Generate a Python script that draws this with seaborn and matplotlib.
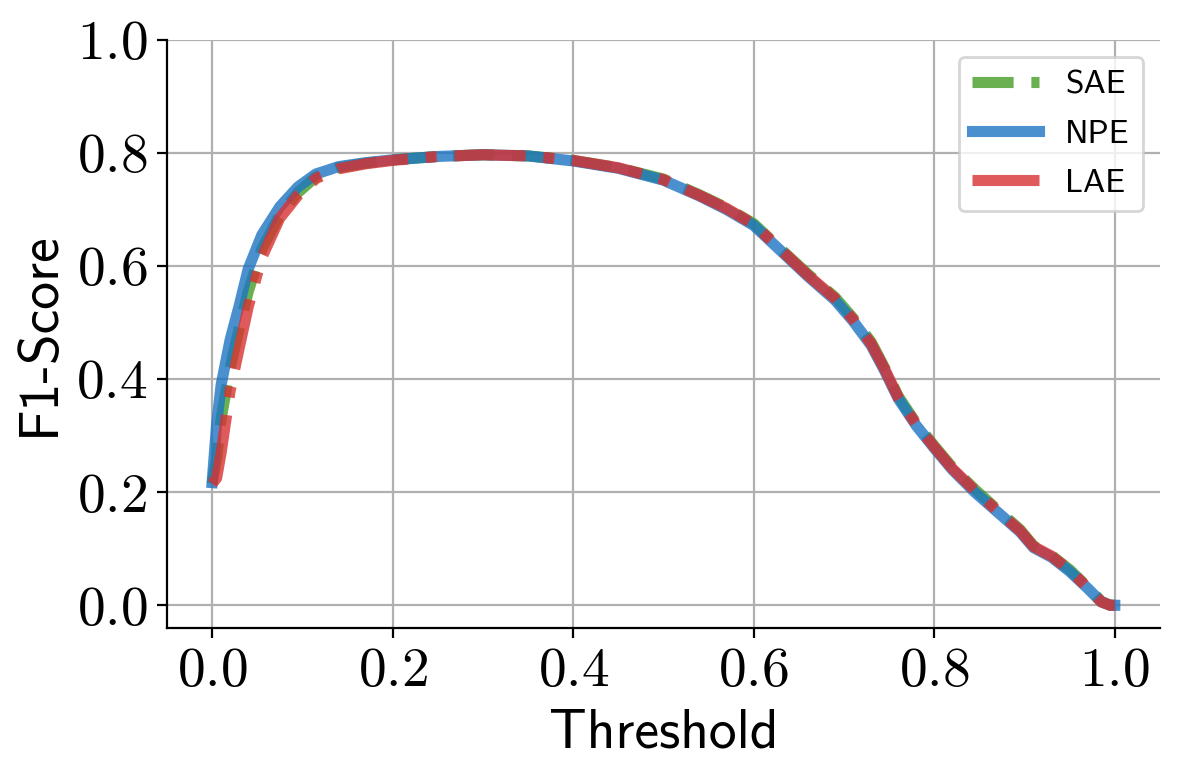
import os

import matplotlib
import pandas as pd
import seaborn as sns
from matplotlib import font_manager
from matplotlib import pyplot as plt

matplotlib.use('Agg')

# Threshold grid and F1 curves
threshold = [0.0, 0.005, 0.01, 0.02, 0.03, 0.04, 0.055, 0.075, 0.095, 0.115, 0.14, 0.17,
             0.2, 0.25, 0.3, 0.35, 0.4, 0.45, 0.5, 0.54, 0.57, 0.6, 0.63, 0.66, 0.69, 0.71,
             0.73, 0.745, 0.76, 0.78, 0.8, 0.82, 0.845, 0.87, 0.895, 0.91, 0.93, 0.95,
             0.97, 0.985, 0.995, 1.0]

f1_npe = [0.217, 0.32, 0.39, 0.47, 0.53, 0.595, 0.655, 0.705, 0.740, 0.763, 0.776, 0.783,
          0.788, 0.794, 0.797, 0.795, 0.786, 0.773, 0.752, 0.724, 0.700, 0.672, 0.627, 0.582,
          0.540, 0.503, 0.460, 0.415, 0.366, 0.318, 0.278, 0.240, 0.200, 0.165, 0.130, 0.102,
          0.085, 0.060, 0.030, 0.006, 0.0, 0.0]

f1_sae = [0.215, 0.26, 0.33, 0.42, 0.49, 0.555, 0.630, 0.690, 0.730, 0.758, 0.774, 0.782,
          0.788, 0.794, 0.797, 0.795, 0.787, 0.774, 0.754, 0.726, 0.703, 0.675, 0.630, 0.586,
          0.545, 0.508, 0.466, 0.420, 0.370, 0.322, 0.282, 0.244, 0.205, 0.169, 0.134, 0.105,
          0.088, 0.063, 0.032, 0.007, 0.0, 0.0]

f1_lae = [0.215, 0.225, 0.27, 0.38, 0.455, 0.528, 0.615, 0.685, 0.725, 0.755, 0.772, 0.781,
          0.787, 0.794, 0.797, 0.795, 0.787, 0.774, 0.753, 0.725, 0.702, 0.674, 0.629, 0.584,
          0.543, 0.506, 0.463, 0.418, 0.368, 0.320, 0.280, 0.242, 0.203, 0.167, 0.132, 0.104,
          0.087, 0.062, 0.031, 0.006, 0.0, 0.0]

series = ['SAE', 'NPE', 'LAE']
colors = {'SAE': '#459c24', 'NPE': '#1d74c4', 'LAE': '#d83131'}
styles = {'SAE': (0, (3.7, 1.6)), 'NPE': '-', 'LAE': (0, (6.4, 1.6, 1.0, 1.6))}

df = pd.DataFrame({'Threshold': threshold * 3,
                   'F1': f1_sae + f1_npe + f1_lae,
                   'Model': [s for s in series for _ in threshold]})

# Computer Modern fonts shipped with matplotlib
ttf_dir = os.path.join(matplotlib.get_data_path(), 'fonts', 'ttf')
for name in ['cmr10.ttf', 'cmss10.ttf']:
    font_manager.fontManager.addfont(os.path.join(ttf_dir, name))

sns.set_style('ticks')
plt.rcParams['font.family'] = ['cmr10', 'DejaVu Sans']
plt.rcParams['axes.formatter.use_mathtext'] = True
plt.rcParams['axes.edgecolor'] = 'black'
plt.rcParams['axes.labelcolor'] = 'black'
plt.rcParams['xtick.color'] = 'black'
plt.rcParams['ytick.color'] = 'black'
plt.rcParams['text.color'] = 'black'
plt.rcParams['lines.solid_capstyle'] = 'projecting'

fig, ax = plt.subplots(figsize=(5.9, 3.9), dpi=200)
fig.subplots_adjust(left=0.1415, right=0.983, top=0.9487, bottom=0.195)

for s in series:
    sub = df[df['Model'] == s]
    sns.lineplot(data=sub, x='Threshold', y='F1', ax=ax, color=colors[s], linestyle=styles[s],
                 linewidth=4, alpha=0.8, label=s, sort=False, solid_capstyle='projecting')

ax.set_xlim(-0.05, 1.05)
ax.set_ylim(-0.04, 1.0)
ax.set_xticks([0.0, 0.2, 0.4, 0.6, 0.8, 1.0])
ax.set_yticks([0.0, 0.2, 0.4, 0.6, 0.8, 1.0])
ax.tick_params(labelsize=20)
ax.grid(True, color='#b0b0b0', linewidth=0.8)
ax.set_axisbelow(True)
sns.despine(ax=ax)

ax.set_xlabel('Threshold', family=['cmss10', 'DejaVu Sans'], fontsize=20)
ax.set_ylabel('F1-Score', family=['cmss10', 'DejaVu Sans'], fontsize=20)

leg = ax.legend(loc='upper right', prop={'family': ['cmss10', 'DejaVu Sans'], 'size': 12},
                frameon=True, fancybox=True, framealpha=0.8, edgecolor='#cccccc',
                labelspacing=0.6)

fig.savefig('out.png', dpi=200)
